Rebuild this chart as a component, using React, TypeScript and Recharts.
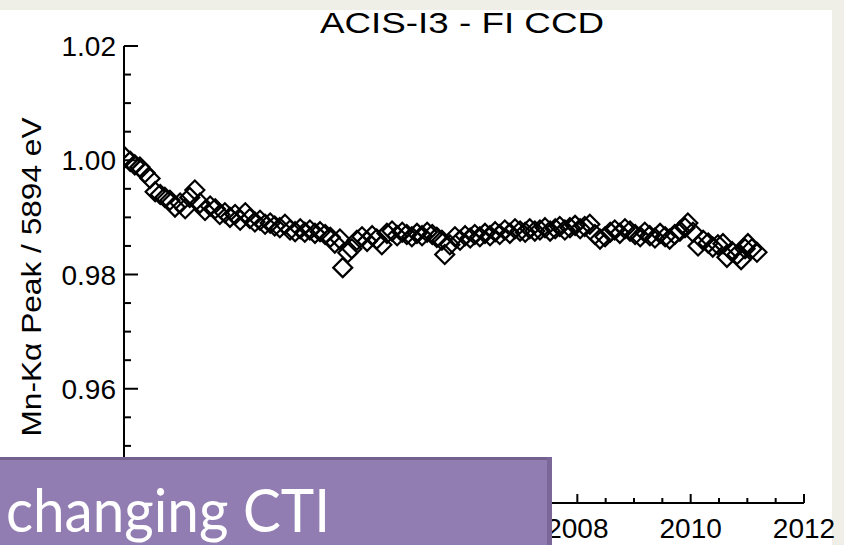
import React from 'react';
import { ScatterChart, Scatter, XAxis, YAxis } from 'recharts';

const years = [
  2000.02, 2000.11, 2000.19, 2000.28, 2000.37, 2000.46, 2000.55, 2000.64, 2000.72, 2000.81,
  2000.9, 2000.99, 2001.08, 2001.16, 2001.25, 2001.34, 2001.43, 2001.52, 2001.61, 2001.69,
  2001.78, 2001.87, 2001.96, 2002.05, 2002.14, 2002.22, 2002.31, 2002.4, 2002.49, 2002.58,
  2002.66, 2002.75, 2002.84, 2002.93, 2003.02, 2003.11, 2003.19, 2003.28, 2003.37, 2003.46,
  2003.55, 2003.64, 2003.72, 2003.81, 2003.86, 2003.95, 2004.02, 2004.11, 2004.2, 2004.29,
  2004.38, 2004.46, 2004.55, 2004.64, 2004.73, 2004.82, 2004.91, 2004.99, 2005.08, 2005.17,
  2005.26, 2005.35, 2005.44, 2005.52, 2005.61, 2005.66, 2005.75, 2005.84, 2005.93, 2006.02,
  2006.11, 2006.19, 2006.28, 2006.37, 2006.46, 2006.55, 2006.63, 2006.72, 2006.81, 2006.9,
  2006.99, 2007.08, 2007.16, 2007.25, 2007.34, 2007.43, 2007.52, 2007.61, 2007.69, 2007.78,
  2007.87, 2007.96, 2008.05, 2008.13, 2008.22, 2008.31, 2008.4, 2008.49, 2008.58, 2008.66,
  2008.75, 2008.84, 2008.93, 2009.02, 2009.11, 2009.19, 2009.28, 2009.37, 2009.46, 2009.55,
  2009.63, 2009.72, 2009.81, 2009.9, 2009.95, 2010.04, 2010.13, 2010.22, 2010.31, 2010.39,
  2010.48, 2010.57, 2010.64, 2010.73, 2010.82, 2010.89, 2010.96, 2011.01, 2011.08, 2011.17,
];

const peaks = [
  1.0005, 0.9998, 0.9992, 0.9988, 0.9978, 0.9968, 0.9945, 0.994, 0.9935, 0.993,
  0.9918, 0.9925, 0.9915, 0.9935, 0.9948, 0.9925, 0.9912, 0.992, 0.9915, 0.9905,
  0.9908, 0.99, 0.9905, 0.9895, 0.9908, 0.9898, 0.9892, 0.9895, 0.9888, 0.989,
  0.9885, 0.9882, 0.9888, 0.9878, 0.9875, 0.988, 0.9874, 0.9878, 0.9872, 0.9875,
  0.987, 0.9865, 0.9855, 0.9862, 0.9812, 0.9838, 0.9845, 0.986, 0.9866, 0.9858,
  0.9868, 0.9862, 0.9852, 0.9872, 0.9876, 0.9868, 0.9874, 0.987, 0.9866, 0.9872,
  0.9868, 0.9874, 0.987, 0.9865, 0.986, 0.9835, 0.9852, 0.9866, 0.986, 0.9868,
  0.9864, 0.987, 0.9866, 0.9872, 0.9868, 0.9875, 0.987, 0.9878, 0.9872, 0.988,
  0.9876, 0.9874, 0.988, 0.9876, 0.9878, 0.9882, 0.9876, 0.988, 0.9884, 0.9878,
  0.9882, 0.9886, 0.988, 0.9884, 0.9888, 0.987, 0.9862, 0.9866, 0.9874, 0.9878,
  0.9872, 0.988, 0.9876, 0.987, 0.9866, 0.9874, 0.9868, 0.9864, 0.9872, 0.9866,
  0.9862, 0.987, 0.9876, 0.9882, 0.989, 0.9874, 0.985, 0.986, 0.9855, 0.9848,
  0.9852, 0.9854, 0.983, 0.984, 0.9835, 0.9826, 0.9845, 0.9854, 0.9845, 0.9839,
];

const xTickValues = [
  2000, 2000.5, 2001, 2001.5, 2002, 2002.5, 2003, 2003.5, 2004, 2004.5, 2005, 2005.5,
  2006, 2006.5, 2007, 2007.5, 2008, 2008.5, 2009, 2009.5, 2010, 2010.5, 2011, 2011.5, 2012,
];
const yTickValues = [
  0.94, 0.945, 0.95, 0.955, 0.96, 0.965, 0.97, 0.975, 0.98, 0.985, 0.99, 0.995, 1.0,
  1.005, 1.01, 1.015, 1.02,
];
const yLabelledTicks = [0.96, 0.98, 1.0, 1.02];

const titleText = 'ACIS-I3 - FI CCD';
const yLabelText = 'Mn-K\u03b1 Peak / 5894 eV';
const noteText = 'changing CTI';

const data = years.map((x, i) => ({ x, y: peaks[i] }));

const FONT = 'Liberation Sans, Arial, sans-serif';

const isMajorX = (v: number) => Math.abs(v / 2 - Math.round(v / 2)) < 1e-6;
const isMajorY = (v: number) => Math.round(v * 1000) % 20 === 0;
const hasYLabel = (v: number) => yLabelledTicks.some((t) => Math.abs(t - v) < 1e-6);

const Diamond = (props: any) => {
  const { cx, cy } = props;
  if (cx == null || cy == null) return <g />;
  const r = 9.5;
  return (
    <polygon
      points={`${cx},${cy - r} ${cx + r},${cy} ${cx},${cy + r} ${cx - r},${cy}`}
      fill="none"
      stroke="#000"
      strokeWidth={2.2}
    />
  );
};

const Empty = () => <g />;

const BottomTick = (props: any) => {
  const { x, y, payload } = props;
  const v = payload.value;
  const major = isMajorX(v);
  return (
    <g>
      <line x1={x} x2={x} y1={y} y2={y - (major ? 9 : 5)} stroke="#000" strokeWidth={2} />
      {major && (
        <text x={x} y={y + 35} textAnchor="middle" fontSize={28} fontFamily={FONT} fill="#000">
          {String(Math.round(v))}
        </text>
      )}
    </g>
  );
};

const TopTick = (props: any) => {
  const { x, y, payload } = props;
  const major = isMajorX(payload.value);
  return <line x1={x} x2={x} y1={y} y2={y + (major ? 9 : 5)} stroke="#000" strokeWidth={2} />;
};

const LeftTick = (props: any) => {
  const { x, y, payload } = props;
  const v = payload.value;
  const major = isMajorY(v);
  return (
    <g>
      <line x1={x} x2={x + (major ? 14 : 7)} y1={y} y2={y} stroke="#000" strokeWidth={2} />
      {major && hasYLabel(v) && (
        <text x={x - 8} y={y + 10} textAnchor="end" fontSize={28} fontFamily={FONT} fill="#000">
          {v.toFixed(2)}
        </text>
      )}
    </g>
  );
};

const RightTick = (props: any) => {
  const { x, y, payload } = props;
  const major = isMajorY(payload.value);
  return <line x1={x} x2={x - (major ? 14 : 7)} y1={y} y2={y} stroke="#000" strokeWidth={2} />;
};

export default function App() {
  return (
    <div
      style={{
        position: 'absolute',
        left: 0,
        top: 0,
        width: 844,
        height: 545,
        background: '#efefe7',
        overflow: 'hidden',
      }}
    >
      <div style={{ position: 'absolute', left: 0, top: 10, width: 832, height: 535, background: '#fff' }} />
      <div style={{ position: 'absolute', left: 0, top: 0 }}>
        <ScatterChart width={844} height={545} margin={{ top: 46, right: 40, bottom: 0, left: 0 }}>
          <XAxis
            type="number"
            dataKey="x"
            domain={[2000, 2012]}
            ticks={xTickValues}
            interval={0}
            height={42}
            tickSize={0}
            tickMargin={0}
            tickLine={false}
            axisLine={{ stroke: '#000', strokeWidth: 2 }}
            tick={BottomTick}
            allowDataOverflow
          />
          <XAxis
            xAxisId="top"
            orientation="top"
            type="number"
            dataKey="x"
            domain={[2000, 2012]}
            ticks={xTickValues}
            interval={0}
            height={0}
            tickSize={0}
            tickMargin={0}
            tickLine={false}
            axisLine={{ stroke: '#000', strokeWidth: 2 }}
            tick={TopTick}
            allowDataOverflow
          />
          <YAxis
            type="number"
            dataKey="y"
            domain={[0.94, 1.02]}
            ticks={yTickValues}
            interval={0}
            width={124}
            tickSize={0}
            tickMargin={0}
            tickLine={false}
            axisLine={{ stroke: '#000', strokeWidth: 2 }}
            tick={LeftTick}
            allowDataOverflow
          />
          <YAxis
            yAxisId="right"
            orientation="right"
            type="number"
            dataKey="y"
            domain={[0.94, 1.02]}
            ticks={yTickValues}
            interval={0}
            width={0}
            tickSize={0}
            tickMargin={0}
            tickLine={false}
            axisLine={{ stroke: '#000', strokeWidth: 2 }}
            tick={RightTick}
            allowDataOverflow
          />
          <Scatter data={data} xAxisId="top" yAxisId="right" shape={Empty} isAnimationActive={false} />
          <Scatter data={data} shape={Diamond} isAnimationActive={false} />
        </ScatterChart>
      </div>
      <svg width={844} height={545} style={{ position: 'absolute', left: 0, top: 0, pointerEvents: 'none' }}>
        <text
          x={462}
          y={33}
          textAnchor="middle"
          fontFamily={FONT}
          fontSize={30}
          textLength={284}
          lengthAdjust="spacingAndGlyphs"
          fill="#000"
        >
          {titleText}
        </text>
        <text
          x={41}
          y={277}
          transform="rotate(-90 41 277)"
          textAnchor="middle"
          fontFamily={FONT}
          fontSize={28}
          textLength={319}
          lengthAdjust="spacingAndGlyphs"
          fill="#000"
        >
          {yLabelText}
        </text>
        <rect x={0} y={457} width={552} height={88} fill="#927db2" />
        <rect x={0} y={457} width={552} height={3} fill="#74608f" />
        <rect x={547} y={457} width={5} height={88} fill="#7b6898" />
        <text
          x={6}
          y={532}
          fill="#fff"
          fontFamily="Lato, 'Open Sans', sans-serif"
          fontSize={60}
          textLength={324}
          lengthAdjust="spacingAndGlyphs"
        >
          {noteText}
        </text>
      </svg>
    </div>
  );
}
